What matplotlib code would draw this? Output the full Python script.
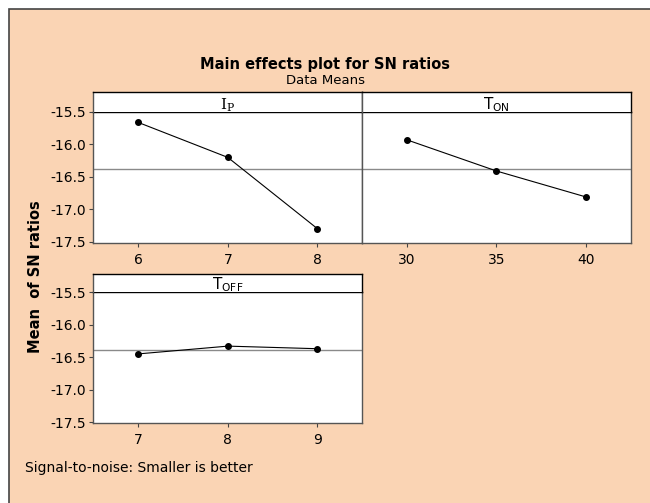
import matplotlib.pyplot as plt
from matplotlib.patches import Rectangle

# factor levels and mean S/N ratios per level
ip_levels = [6, 7, 8]
ip_sn = [-15.66, -16.20, -17.30]
ton_levels = [30, 35, 40]
ton_sn = [-15.93, -16.41, -16.81]
toff_levels = [7, 8, 9]
toff_sn = [-16.45, -16.33, -16.37]
yticks = [-15.5, -16.0, -16.5, -17.0, -17.5]

grand_mean = sum(ip_sn + ton_sn + toff_sn) / 9

BG = '#fad4b4'
W, H = 650, 503

fig = plt.figure(figsize=(6.5, 5.03), dpi=100)
fig.patch.set_facecolor('white')
# peach panel, its right and bottom edges run off the page
fig.patches.append(Rectangle((9 / W, -0.02), 1.05, 1.02 - 9 / H, transform=fig.transFigure,
                             facecolor=BG, edgecolor='#444444', linewidth=1.2, zorder=-10))


def fx(px):
    return px / W


def fy(px):
    return 1 - px / H


def panel(left, right, top, header_top, levels, values, label, xlim, show_y, mfont):
    ax = fig.add_axes([fx(left), fy(top + 131), fx(right - left), 131 / H])
    hd = fig.add_axes([fx(left), fy(top), fx(right - left), (top - header_top) / H])
    ax.plot(levels, values, color='black', lw=0.8, marker='o', ms=4, zorder=3)
    ax.axhline(grand_mean, color='#8a8a8a', lw=1.0, zorder=2)
    ax.set_xlim(*xlim)
    ax.set_ylim(-17.52, -15.5)
    ax.set_xticks(levels)
    ax.set_yticks(yticks)
    ax.set_yticklabels(['%.1f' % v for v in yticks] if show_y else [])
    ax.tick_params(direction='out', length=3, width=0.8, labelsize=10,
                   color='#444444', pad=2, left=show_y)
    ax.xaxis.set_tick_params(pad=4)
    for s in ax.spines.values():
        s.set_color('#555555')
        s.set_linewidth(1.0)
    ax.spines['top'].set_color('black')
    hd.set_xticks([])
    hd.set_yticks([])
    for s in hd.spines.values():
        s.set_color('black')
        s.set_linewidth(1.0)
    hd.spines['bottom'].set_visible(False)
    hd.spines['left'].set_color('#555555')
    hd.text(0.5, -0.08, label, ha='center', va='bottom', fontsize=11,
            transform=hd.transAxes, math_fontfamily=mfont)
    return ax


panel(93.3, 362.3, 112, 92, ip_levels, ip_sn, r'$\mathrm{I_P}$', (5.5, 8.5), True, 'dejavuserif')
panel(362.3, 630.7, 112, 92, ton_levels, ton_sn, r'$\mathrm{T_{ON}}$', (27.5, 42.5), False, 'dejavusans')
panel(93.3, 362.3, 292.3, 274, toff_levels, toff_sn, r'$\mathrm{T_{OFF}}$', (6.5, 9.5), True, 'dejavusans')

fig.text(fx(325), fy(64), 'Main effects plot for SN ratios', ha='center', va='center',
         fontsize=10.5, fontweight='bold')
fig.text(fx(325), fy(80), 'Data Means', ha='center', va='center', fontsize=9.5)
fig.text(fx(36), fy(277), 'Mean  of SN ratios', ha='center', va='center', rotation=90,
         fontsize=10.5, fontweight='bold')
fig.text(fx(25), fy(468), 'Signal-to-noise: Smaller is better', ha='left', va='center',
         fontsize=10)

fig.savefig('out.png', dpi=100, facecolor=fig.get_facecolor())
